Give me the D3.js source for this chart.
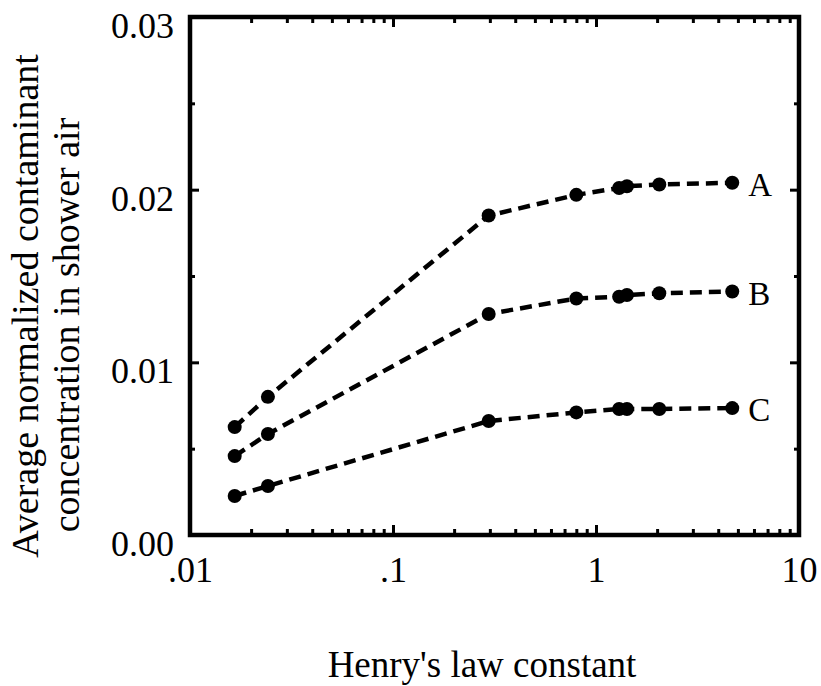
<!DOCTYPE html>
<html>
<head>
<meta charset="utf-8">
<script src="https://cdn.jsdelivr.net/npm/d3@7"></script>
<style>
  body { margin: 0; background: #fff; }
  svg text { font-family: "Liberation Serif", "Times New Roman", serif; fill: #000; }
</style>
</head>
<body>
<svg id="chart"></svg>
<script>
// Henry's law constant (x) and the three curves
const henry = [0.0166, 0.0242, 0.296, 0.80, 1.3, 1.42, 2.05, 4.69];
const seriesA = [0.00625, 0.0080, 0.0185, 0.0197, 0.0201, 0.0202, 0.0203, 0.0204];
const seriesB = [0.00457, 0.00585, 0.0128, 0.0137, 0.0138, 0.0139, 0.0140, 0.0141];
const seriesC = [0.00226, 0.00284, 0.0066, 0.0071, 0.0073, 0.0073, 0.0073, 0.00735];
const seriesNames = ["A", "B", "C"];
const xTicks = [0.01, 0.1, 1, 10];
const xTickLabels = [".01", ".1", "1", "10"];
const yTicks = [0, 0.01, 0.02, 0.03];
const yTickLabels = ["0.00", "0.01", "0.02", "0.03"];
const yMinorTicks = [0.005, 0.015, 0.025];

const width = 821, height = 686;
const margin = { top: 17, right: 22, bottom: 151, left: 190 };

const svg = d3.select("#chart")
  .attr("width", width)
  .attr("height", height);

const x = d3.scaleLog()
  .domain([0.01, 10])
  .range([margin.left, width - margin.right]);

const y = d3.scaleLinear()
  .domain([0, 0.03])
  .range([height - margin.bottom, margin.top]);

// minor ticks on the log axis: 2..9 in each decade
const xMinor = [];
[0.01, 0.1, 1].forEach(d => { for (let k = 2; k <= 9; k++) xMinor.push(d * k); });

const x0 = x.range()[0], x1 = x.range()[1];
const y0 = y.range()[0], y1 = y.range()[1];

function styleAxis(g) {
  g.select(".domain").remove();
  g.selectAll(".tick line").attr("stroke", "#000").attr("stroke-width", 3);
}

// bottom
svg.append("g")
  .attr("transform", "translate(0," + y0 + ")")
  .call(d3.axisBottom(x).tickValues(xTicks).tickSize(-10).tickPadding(21)
    .tickFormat((d, i) => xTickLabels[i]))
  .call(styleAxis)
  .call(g => g.selectAll(".tick text").style("font-size", "36px"));
svg.append("g")
  .attr("transform", "translate(0," + y0 + ")")
  .call(d3.axisBottom(x).tickValues(xMinor).tickSize(-6).tickFormat(""))
  .call(styleAxis);

// top
svg.append("g")
  .attr("transform", "translate(0," + y1 + ")")
  .call(d3.axisTop(x).tickValues(xTicks).tickSize(-10).tickFormat(""))
  .call(styleAxis);
svg.append("g")
  .attr("transform", "translate(0," + y1 + ")")
  .call(d3.axisTop(x).tickValues(xMinor).tickSize(-6).tickFormat(""))
  .call(styleAxis);

// left
svg.append("g")
  .attr("transform", "translate(" + x0 + ",0)")
  .call(d3.axisLeft(y).tickValues(yTicks).tickSize(-9).tickPadding(16)
    .tickFormat((d, i) => yTickLabels[i]))
  .call(styleAxis)
  .call(g => g.selectAll(".tick text").style("font-size", "36px").attr("y", 9));
svg.append("g")
  .attr("transform", "translate(" + x0 + ",0)")
  .call(d3.axisLeft(y).tickValues(yMinorTicks).tickSize(-5).tickFormat(""))
  .call(styleAxis);

// right
svg.append("g")
  .attr("transform", "translate(" + x1 + ",0)")
  .call(d3.axisRight(y).tickValues(yTicks).tickSize(-9).tickFormat(""))
  .call(styleAxis);
svg.append("g")
  .attr("transform", "translate(" + x1 + ",0)")
  .call(d3.axisRight(y).tickValues(yMinorTicks).tickSize(-5).tickFormat(""))
  .call(styleAxis);

// frame
svg.append("rect")
  .attr("x", x0).attr("y", y1)
  .attr("width", x1 - x0).attr("height", y0 - y1)
  .attr("fill", "none")
  .attr("stroke", "#000")
  .attr("stroke-width", 4.5);

// curves
const allSeries = [seriesA, seriesB, seriesC];
const line = d3.line()
  .x((d, i) => x(henry[i]))
  .y(d => y(d));

const curves = svg.append("g");
allSeries.forEach((vals, s) => {
  curves.append("path")
    .datum(vals)
    .attr("d", line)
    .attr("fill", "none")
    .attr("stroke", "#000")
    .attr("stroke-width", 4.5)
    .attr("stroke-dasharray", "12,7");

  curves.selectAll(".dot" + s)
    .data(vals)
    .enter()
    .append("circle")
    .attr("cx", (d, i) => x(henry[i]))
    .attr("cy", d => y(d))
    .attr("r", 7)
    .attr("fill", "#000");

  const last = vals.length - 1;
  curves.append("text")
    .attr("x", x(henry[last]) + 16)
    .attr("y", y(vals[last]) + 13)
    .style("font-size", "33px")
    .text(seriesNames[s]);
});

// axis titles
svg.append("text")
  .attr("transform", "translate(482,677)")
  .attr("text-anchor", "middle")
  .style("font-size", "37px")
  .text("Henry's law constant");

svg.append("text")
  .attr("transform", "translate(38,306) rotate(-90)")
  .attr("text-anchor", "middle")
  .style("font-size", "38px")
  .text("Average normalized contaminant");

svg.append("text")
  .attr("transform", "translate(79,325) rotate(-90)")
  .attr("text-anchor", "middle")
  .style("font-size", "38px")
  .text("concentration in shower air");
</script>
</body>
</html>
